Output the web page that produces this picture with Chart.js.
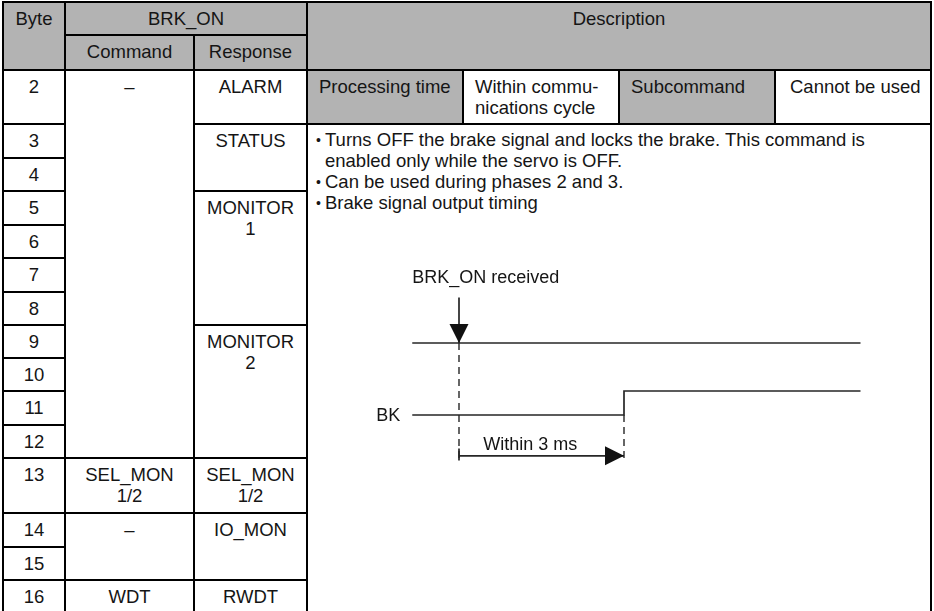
<!DOCTYPE html>
<html>
<head>
<meta charset="utf-8">
<script src="https://cdn.jsdelivr.net/npm/chart.js@4.4.1/dist/chart.umd.min.js"></script>
<style>
  html, body { margin: 0; padding: 0; background: #fff; }
  body { width: 934px; height: 611px; overflow: hidden; position: relative;
         font-family: "Liberation Sans", Arial, Helvetica, sans-serif; font-size: 18.5px; color: #151515; }
  .tbl { position: absolute; left: 2px; top: 1px; display: grid; background: #000; padding: 2px; gap: 2px;
         grid-template-columns: 60px 127px 111px 154px 154px 154px 154px;
         grid-template-rows: 31px 33px 52px 32px 31px 32px 31px 32px 31px 31px 31px 32px 31px 53px 32px 31px 32px; }
  .tbl > div { background: #fff; line-height: 21px; padding-top: 5px; text-align: center; white-space: pre-line; overflow: hidden; }
  .tbl > div.gray { background: #b3b3b3; }
  .tbl > div.attr { text-align: left; padding-top: 5px; padding-left: 11px; }
  .tbl > div.attr.last { padding-left: 14px; }
  .tbl > div.desc { text-align: left; padding-top: 4px; }
  .note { position: relative; padding-left: 17px; white-space: pre-line; }
  .note::before { content: "\2022"; position: absolute; left: 8px; top: 1px; font-size: 14px; }
  #diagram { position: absolute; left: 349px; top: 259px; width: 550px; height: 216px; z-index: 2; }
</style>
</head>
<body>
<div class="tbl" id="tbl"></div>
<div id="diagram"><canvas id="chart"></canvas></div>
<script>
// table contents
const bytes = [2, 3, 4, 5, 6, 7, 8, 9, 10, 11, 12, 13, 14, 15, 16]
const commandLabels = ['–', 'SEL_MON\n1/2', '–', 'WDT']
const commandSpans = [[2, 12], [13, 13], [14, 15], [16, 16]]
const responseLabels = ['ALARM', 'STATUS', 'MONITOR\n1', 'MONITOR\n2', 'SEL_MON\n1/2', 'IO_MON', 'RWDT']
const responseSpans = [[2, 2], [3, 4], [5, 8], [9, 12], [13, 13], [14, 15], [16, 16]]
const attrLabels = ['Processing time', 'Within commu-\nnications cycle', 'Subcommand', 'Cannot be used']
const attrGray = [true, false, true, false]
const notes = [
  'Turns OFF the brake signal and locks the brake. This command is\nenabled only while the servo is OFF.',
  'Can be used during phases 2 and 3.',
  'Brake signal output timing'
]

// timing diagram (time in ms, signal levels)
const cmdTimes = [-0.85, 7.3]
const cmdLevels = [3, 3]
const bkTimes = [-0.85, 3, 3, 7.3]
const bkLevels = [0, 0, 1, 1]
const receivedAt = 0
const brakeDelay = 3
const markerTop = 4.9
const spanRow = -1.7
const guideBottom = -1.9
const diagramLabels = ['BRK_ON received', 'BK', 'Within 3 ms']

function cell(text, col, row, cls) {
  const d = document.createElement('div')
  d.style.gridColumn = col
  d.style.gridRow = row
  if (cls) d.className = cls
  if (text) d.textContent = text
  document.getElementById('tbl').appendChild(d)
  return d
}

function buildTable() {
  cell('Byte', '1', '1 / 3', 'gray')
  cell('BRK_ON', '2 / 4', '1', 'gray')
  cell('Description', '4 / 8', '1 / 3', 'gray')
  cell('Command', '2', '2', 'gray')
  cell('Response', '3', '2', 'gray')
  for (let i = 0; i < bytes.length; i++) {
    cell(String(bytes[i]), '1', String(bytes[i] + 1))
  }
  for (let i = 0; i < commandLabels.length; i++) {
    cell(commandLabels[i], '2', (commandSpans[i][0] + 1) + ' / ' + (commandSpans[i][1] + 2))
  }
  for (let i = 0; i < responseLabels.length; i++) {
    cell(responseLabels[i], '3', (responseSpans[i][0] + 1) + ' / ' + (responseSpans[i][1] + 2))
  }
  for (let i = 0; i < attrLabels.length; i++) {
    let cls = attrGray[i] ? 'attr gray' : 'attr'
    if (i == attrLabels.length - 1) cls += ' last'
    cell(attrLabels[i], String(4 + i), '3', cls)
  }
  const desc = cell('', '4 / 8', '4 / 18', 'desc')
  notes.forEach(n => {
    const p = document.createElement('div')
    p.className = 'note'
    p.textContent = n
    desc.appendChild(p)
  })
}

function pts(xs, ys) {
  return xs.map((x, i) => ({x: x, y: ys[i]}))
}

const lineColor = '#262626'

const arrowHeads = {
  id: 'arrowHeads',
  afterDatasetsDraw(chart) {
    const {ctx, scales: {x, y}} = chart
    const len = 19, half = 9.5
    ctx.save()
    ctx.fillStyle = '#111'
    // down arrow onto the command line
    let px = x.getPixelForValue(receivedAt), py = y.getPixelForValue(cmdLevels[0])
    ctx.beginPath()
    ctx.moveTo(px, py)
    ctx.lineTo(px - half, py - len)
    ctx.lineTo(px + half, py - len)
    ctx.closePath()
    ctx.fill()
    // right arrow at end of delay span
    px = x.getPixelForValue(brakeDelay); py = y.getPixelForValue(spanRow)
    ctx.beginPath()
    ctx.moveTo(px, py)
    ctx.lineTo(px - len, py - half)
    ctx.lineTo(px - len, py + half)
    ctx.closePath()
    ctx.fill()
    ctx.restore()
  }
}

const labels = {
  id: 'labels',
  afterDatasetsDraw(chart) {
    const {ctx, scales: {x, y}} = chart
    ctx.save()
    ctx.fillStyle = '#151515'
    ctx.font = '18px "Liberation Sans", Arial, sans-serif'
    ctx.textBaseline = 'middle'
    ctx.textAlign = 'left'
    ctx.fillText(diagramLabels[0], x.getPixelForValue(cmdTimes[0]), y.getPixelForValue(5.7))
    ctx.textAlign = 'right'
    ctx.fillText(diagramLabels[1], x.getPixelForValue(bkTimes[0]) - 12, y.getPixelForValue(bkLevels[0]) + 1)
    ctx.textAlign = 'left'
    ctx.fillText(diagramLabels[2], x.getPixelForValue(0.44), y.getPixelForValue(-1.25))
    ctx.restore()
  }
}

function initChart() {
  const ctx = document.getElementById('chart').getContext('2d')
  const solid = {showLine: true, pointRadius: 0, borderColor: lineColor, borderWidth: 1.7, fill: false}
  const dashed = Object.assign({}, solid, {borderDash: [7, 5], borderWidth: 1.4})
  new Chart(ctx, {
    type: 'scatter',
    data: {
      datasets: [
        Object.assign({label: 'BRK_ON', data: pts(cmdTimes, cmdLevels)}, solid),
        Object.assign({label: 'BK', data: pts(bkTimes, bkLevels)}, solid),
        Object.assign({label: 'received', data: pts([receivedAt, receivedAt], [cmdLevels[0], guideBottom])}, dashed),
        Object.assign({label: 'output', data: pts([brakeDelay, brakeDelay], [bkLevels[0], guideBottom])}, dashed),
        Object.assign({label: 'marker', data: pts([receivedAt, receivedAt], [markerTop, cmdLevels[0]])}, solid),
        Object.assign({label: 'span', data: pts([receivedAt, brakeDelay], [spanRow, spanRow])}, solid),
        Object.assign({label: 'tick', data: pts([receivedAt, receivedAt], [spanRow + 0.3, guideBottom])}, solid)
      ]
    },
    options: {
      responsive: true,
      maintainAspectRatio: false,
      animation: false,
      layout: {padding: 0},
      plugins: {
        legend: {display: false},
        tooltip: {enabled: false}
      },
      scales: {
        x: {type: 'linear', min: -2, max: 8, display: false},
        y: {type: 'linear', min: -2.5, max: 6.5, display: false}
      }
    },
    plugins: [arrowHeads, labels]
  })
}

buildTable()
initChart()
</script>
</body>
</html>
